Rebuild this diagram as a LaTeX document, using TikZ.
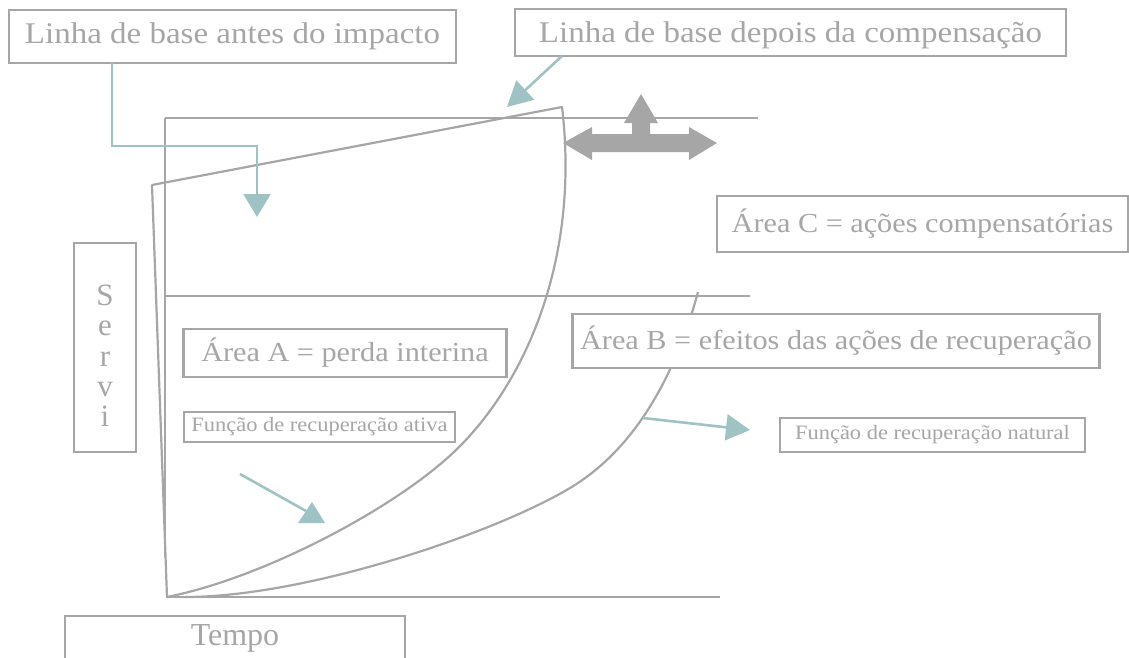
\documentclass[tikz,border=0pt]{standalone}
\usepackage{fontspec}
\setmainfont{Liberation Serif}
\newfontfamily\gfont[FakeStretch=1.1]{Liberation Serif}
\usetikzlibrary{arrows.meta}
\definecolor{lg}{HTML}{A6A6A6}
\definecolor{tl}{HTML}{9FC2C5}
\newcommand{\fsz}[1]{\fontsize{#1}{#1}\selectfont}
\begin{document}
\begin{tikzpicture}[x=1pt,y=-1pt,
  box/.style={draw=lg, line width=2.6pt, fill=white, text=lg, inner sep=0pt, outer sep=0pt},
  gline/.style={draw=lg, line width=2.2pt},
  tline/.style={draw=tl, line width=2.6pt},
  tarrow/.style={tline, -{Triangle[width=27pt,length=23pt]}},
]
\useasboundingbox (0,0) rectangle (1129,657);

% frame lines
\draw[gline] (165,118) -- (758,118);
\draw[gline] (165,118) -- (165,557);
\draw[gline] (165,296) -- (750,296);
\draw[gline] (166,597) -- (720,597);

% active recovery shape
\draw[gline, line join=round] (167,597) -- (152,185) -- (562,107)
  .. controls (580,257) and (527,381) .. (456,450)
  .. controls (399,505.5) and (267,577) .. (167,597);

% natural recovery curve
\draw[gline] (698,292) .. controls (677,369) and (638.6,447) .. (570,488)
  .. controls (492.8,534.2) and (305,597) .. (185,597);

% three-way arrow
\fill[lg] (563,143) -- (592,127) -- (592,134) -- (632,134) -- (632,123) -- (624,123) -- (641,94) -- (658,123) -- (650,123) -- (650,134) -- (689,134) -- (689,127) -- (717,143) -- (689,160) -- (689,152) -- (592,152) -- (592,160) -- cycle;

% boxes
\node[box, minimum width=447pt, minimum height=53pt, font={\gfont\fsz{30}}] (b1) at (232.5,36.5) {Linha de base antes do impacto};
\node[box, minimum width=551pt, minimum height=47pt, text height=27pt, text depth=6.5pt, font={\gfont\fsz{30}}] (b2) at (790.5,32.5) {Linha de base depois da compensação};
\node[box, minimum width=411pt, minimum height=56pt, font={\gfont\fsz{27.5}}] (bC) at (922.5,224) {Área C = ações compensatórias};
\node[box, minimum width=323pt, minimum height=48pt, font={\gfont\fsz{27.5}}] (bA) at (345,353) {Área A = perda interina};
\node[box, minimum width=527pt, minimum height=54pt, font={\gfont\fsz{27.5}}] (bB) at (836,341) {Área B = efeitos das ações de recuperação};
\node[box, minimum width=271pt, minimum height=30pt, font={\gfont\fsz{20.4}}] (fa) at (319.5,427) {Função de recuperação ativa};
\node[box, minimum width=305pt, minimum height=34pt, font={\gfont\fsz{20.4}}] (fn) at (932.5,435) {Função de recuperação natural};
\node[box, minimum width=62pt, minimum height=209pt, align=center, font={\fontsize{31}{30.2}\selectfont}] (sv) at (105,347.5) {\rule{0pt}{37pt}S\\e\\r\\v\\i};
\node[box, minimum width=340pt, minimum height=54pt, text height=21.2pt, text depth=16.7pt, font={\fsz{32}}] (tp) at (235,643) {Tempo};

% teal connectors
\coordinate (a1x) at (112,0);
\coordinate (a1k) at (257,146);
\coordinate (a1t) at (257,217);
\draw[tarrow] (a1x |- b1.south) |- (a1k) -- (a1t);

\coordinate (a2x) at (562,0);
\coordinate (a2t) at (507,107);
\draw[tline, -{Triangle[width=26pt,length=25pt]}] (a2x |- b2.south) -- (a2t);

\coordinate (n0) at (643,418);
\coordinate (nt) at (750,430);
\draw[tline, -{Triangle[width=26pt,length=24pt]}] (n0) -- (nt);

\coordinate (r0) at (240,474);
\coordinate (r1) at (306,511);
\draw[tline] (r0) -- (r1);
\fill[tl] (312,502) -- (325,523) -- (298,523) -- cycle;
\end{tikzpicture}
\end{document}
